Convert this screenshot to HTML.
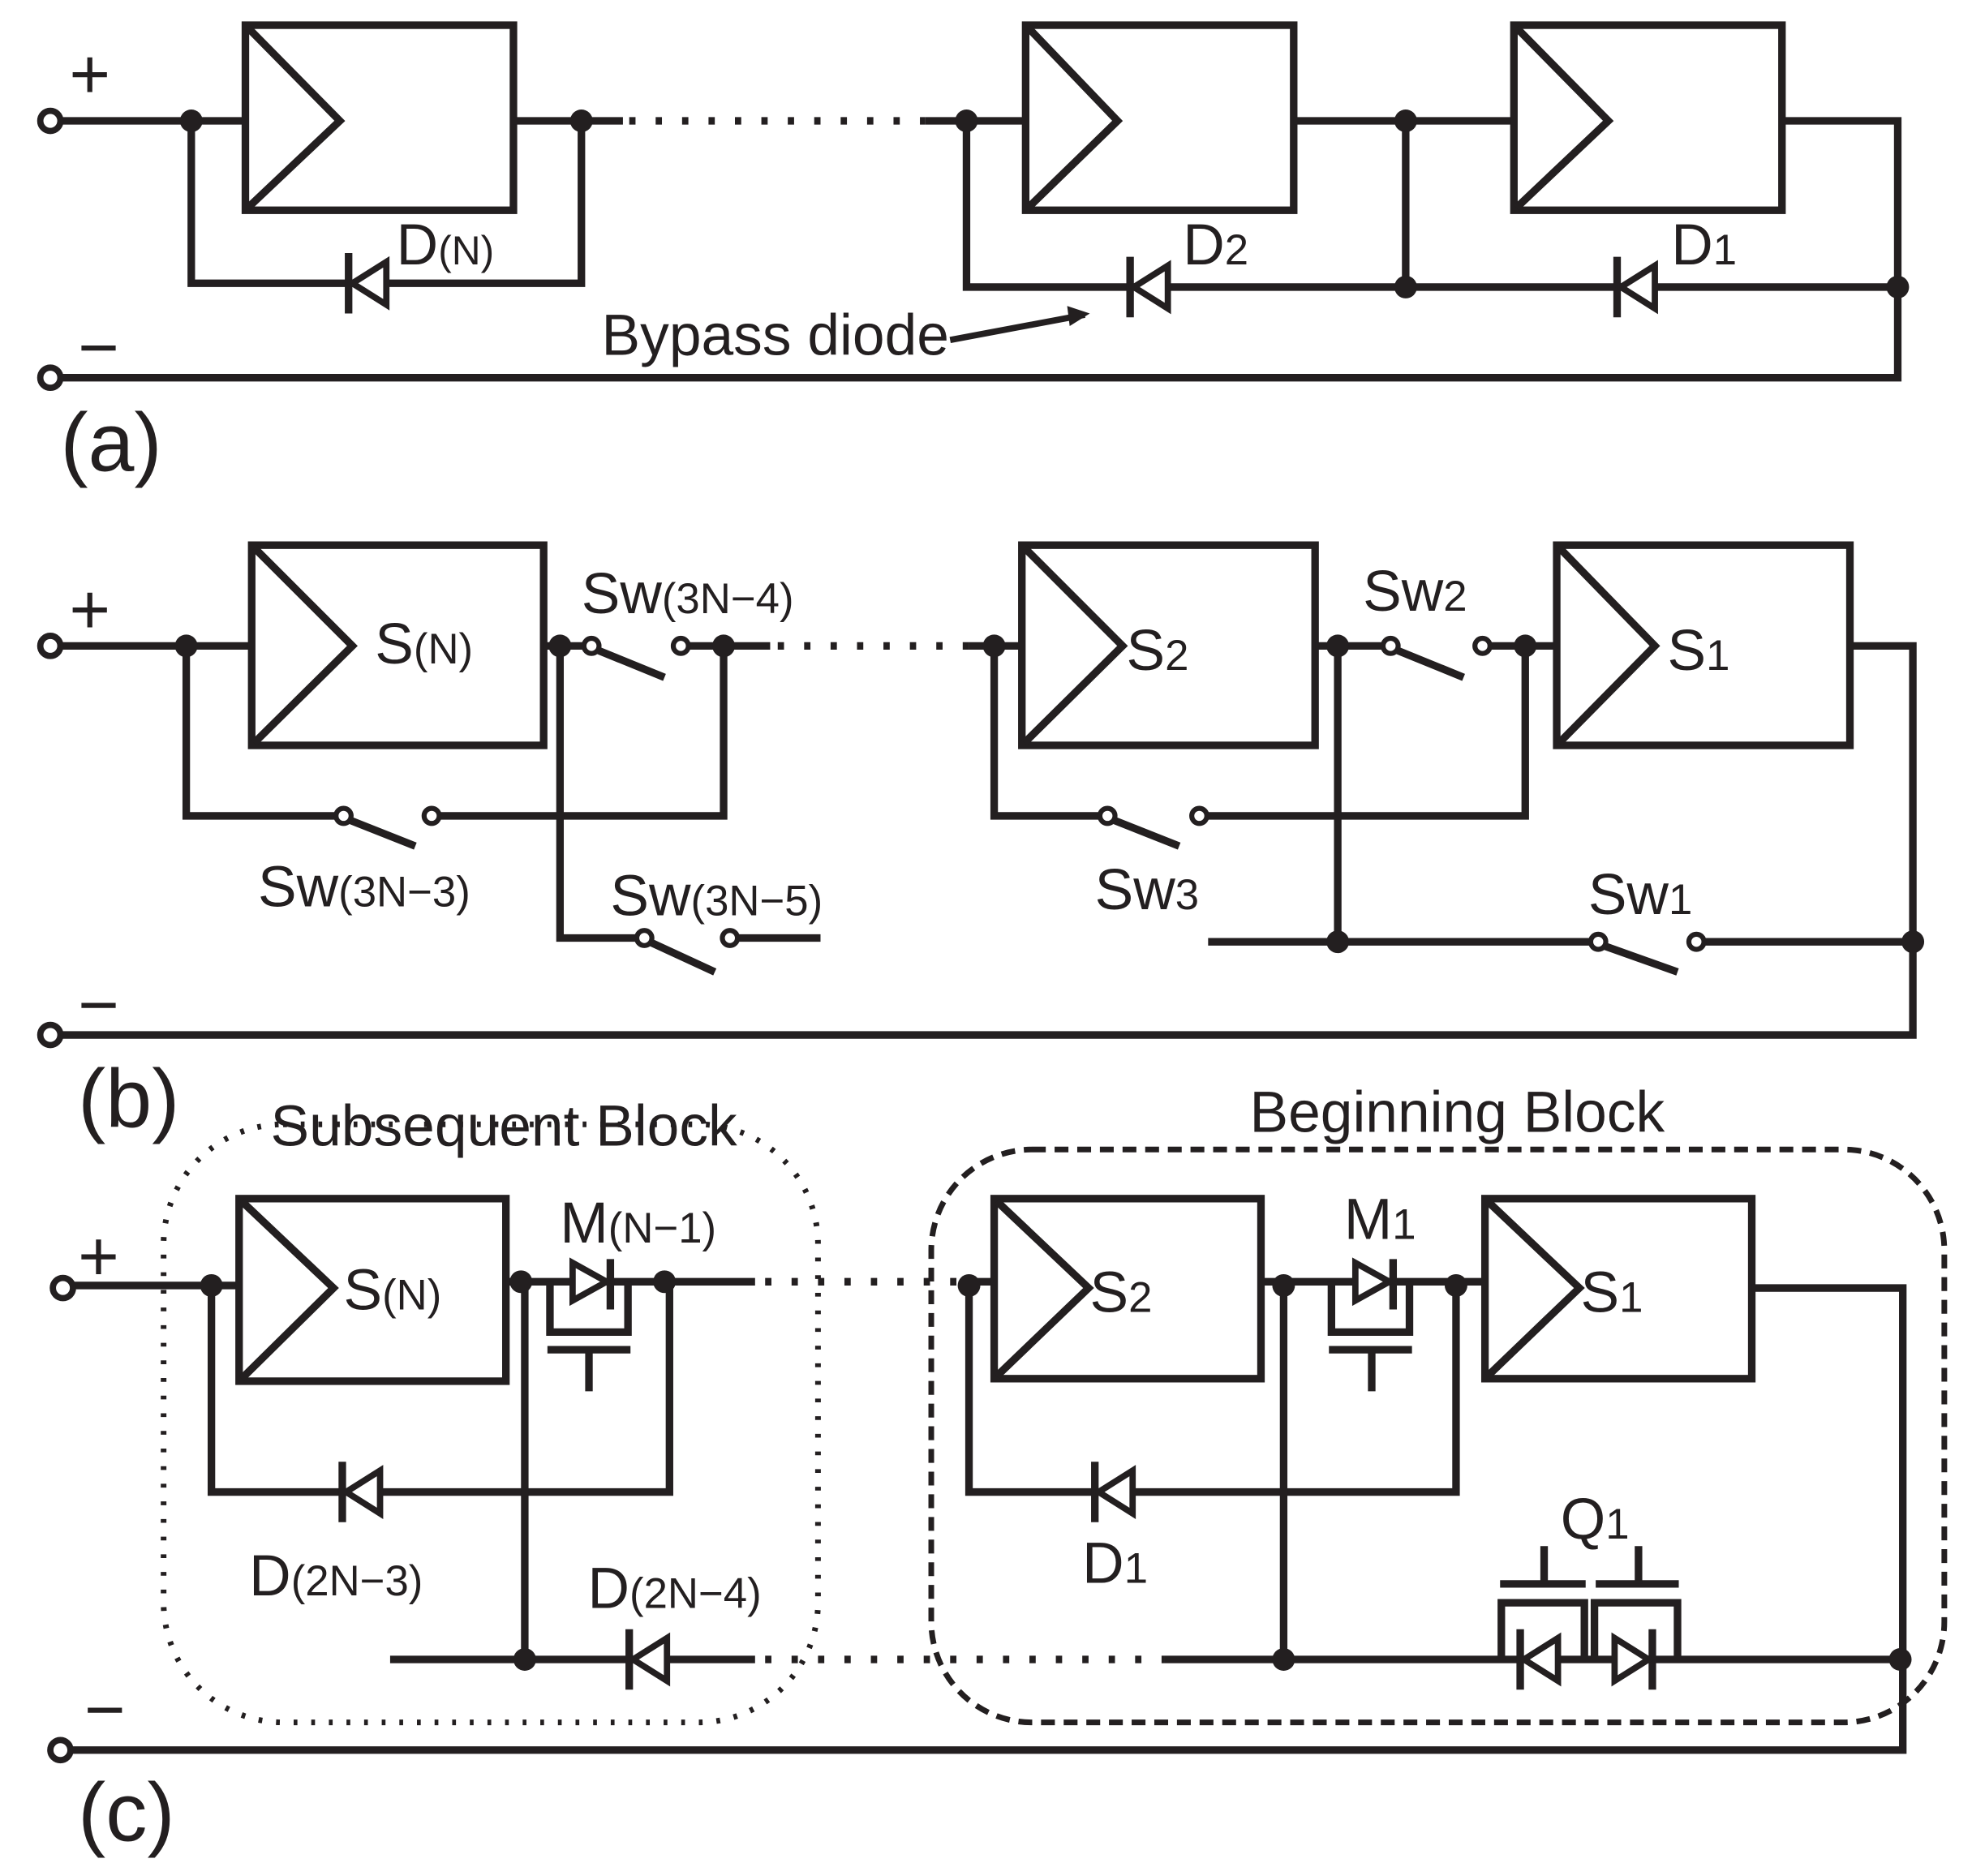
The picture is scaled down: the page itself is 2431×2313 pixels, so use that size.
<!DOCTYPE html>
<html><head><meta charset="utf-8"><style>
html,body{margin:0;padding:0;background:#fff;}
svg{display:block;}
text{font-family:"Liberation Sans",Arial,sans-serif;fill:#231f20;}
</style></head><body>
<svg width="2431" height="2313" viewBox="0 0 1567 1490" preserveAspectRatio="none" xmlns="http://www.w3.org/2000/svg">
<defs>
<g id="dl"><line x1="-15" y1="-24" x2="-15" y2="24" stroke="#231f20" stroke-width="6"/><polygon points="-12,0 15,-17 15,17" fill="#fff" stroke="#231f20" stroke-width="5"/></g>
<g id="dr"><line x1="15" y1="-24" x2="15" y2="24" stroke="#231f20" stroke-width="6"/><polygon points="12,0 -15,-17 -15,17" fill="#fff" stroke="#231f20" stroke-width="5"/></g>
</defs>
<g fill="none" stroke="#231f20" stroke-width="6">
<!-- (a) -->
<line x1="47" y1="96" x2="195" y2="96"/>
<rect x="195" y="20" width="213" height="147"/>
<polyline points="197,22 270,96 197,165"/>
<line x1="408" y1="96" x2="495" y2="96"/>
<line x1="500" y1="96" x2="735" y2="96" stroke-dasharray="5,16"/>
<line x1="735" y1="96" x2="815" y2="96"/>
<polyline points="152,96 152,225 462,225 462,96"/>
<rect x="815" y="20" width="213" height="147"/>
<polyline points="817,22 888,96 817,165"/>
<line x1="1028" y1="96" x2="1203" y2="96"/>
<rect x="1203" y="20" width="213" height="147"/>
<polyline points="1205,22 1278,96 1205,165"/>
<polyline points="1416,96 1508,96 1508,300 47,300"/>
<polyline points="768,96 768,228 1508,228"/>
<line x1="1117" y1="96" x2="1117" y2="228"/>
<line x1="755" y1="270" x2="862" y2="250" stroke-width="5"/>
<!-- (b) -->
<line x1="47" y1="513" x2="200" y2="513"/>
<rect x="200" y="433" width="232" height="159"/>
<polyline points="202,435 280,513 202,590"/>
<line x1="432" y1="513" x2="465" y2="513"/>
<line x1="474" y1="516" x2="528" y2="538"/>
<line x1="547" y1="513" x2="612" y2="513"/>
<line x1="618" y1="513" x2="770" y2="513" stroke-dasharray="5,16"/>
<line x1="770" y1="513" x2="812" y2="513"/>
<polyline points="148,513 148,648 267,648"/>
<line x1="277" y1="651" x2="330" y2="672"/>
<polyline points="349,648 575,648 575,513"/>
<polyline points="445,513 445,745 506,745"/>
<line x1="516" y1="748" x2="568" y2="772"/>
<line x1="586" y1="745" x2="652" y2="745"/>
<rect x="812" y="433" width="233" height="159"/>
<polyline points="814,435 892,513 814,590"/>
<line x1="1045" y1="513" x2="1099" y2="513"/>
<line x1="1109" y1="516" x2="1163" y2="538"/>
<line x1="1184" y1="513" x2="1237" y2="513"/>
<rect x="1237" y="433" width="233" height="159"/>
<polyline points="1239,435 1315,513 1239,590"/>
<polyline points="1470,513 1520,513 1520,822 47,822"/>
<polyline points="790,513 790,648 874,648"/>
<line x1="884" y1="651" x2="937" y2="672"/>
<polyline points="959,648 1212,648 1212,513"/>
<line x1="1063" y1="513" x2="1063" y2="748"/>
<line x1="960" y1="748" x2="1264" y2="748"/>
<line x1="1274" y1="751" x2="1333" y2="772"/>
<line x1="1354" y1="748" x2="1520" y2="748"/>
<!-- (c) -->
<rect x="130" y="893" width="520" height="475" rx="95" stroke-width="4.5" stroke-dasharray="3,11"/>
<rect x="740" y="913" width="805" height="455" rx="80" stroke-width="4.5" stroke-dasharray="11,7"/>
<line x1="57" y1="1021" x2="190" y2="1021"/>
<rect x="190" y="952" width="212" height="145"/>
<polyline points="192,954 265,1023 192,1095"/>
<line x1="402" y1="1018" x2="600" y2="1018"/>
<line x1="608" y1="1018" x2="770" y2="1018" stroke-dasharray="5,16"/>
<polyline points="437,1018 437,1058 499,1058 499,1018"/>
<line x1="435" y1="1072" x2="501" y2="1072"/>
<line x1="468" y1="1072" x2="468" y2="1105"/>
<polyline points="168,1021 168,1185 532,1185 532,1018"/>
<line x1="417" y1="1018" x2="417" y2="1318"/>
<line x1="310" y1="1318" x2="600" y2="1318"/>
<line x1="608" y1="1318" x2="925" y2="1318" stroke-dasharray="5,16"/>
<line x1="770" y1="1018" x2="790" y2="1018"/>
<rect x="790" y="952" width="212" height="143"/>
<polyline points="792,954 865,1023 792,1093"/>
<line x1="1002" y1="1018" x2="1180" y2="1018"/>
<polyline points="1058,1018 1058,1058 1120,1058 1120,1018"/>
<line x1="1056" y1="1072" x2="1122" y2="1072"/>
<line x1="1090" y1="1072" x2="1090" y2="1105"/>
<rect x="1180" y="952" width="212" height="143"/>
<polyline points="1182,954 1255,1023 1182,1093"/>
<polyline points="1392,1023 1512,1023 1512,1390 57,1390"/>
<polyline points="770,1018 770,1185 1157,1185 1157,1018"/>
<line x1="1020" y1="1018" x2="1020" y2="1318"/>
<line x1="925" y1="1318" x2="1512" y2="1318"/>
<polyline points="1193,1318 1193,1273 1259,1273 1259,1318"/>
<polyline points="1267,1318 1267,1273 1333,1273 1333,1318"/>
<line x1="1192" y1="1258" x2="1260" y2="1258"/>
<line x1="1227" y1="1258" x2="1227" y2="1228"/>
<line x1="1268" y1="1258" x2="1334" y2="1258"/>
<line x1="1302" y1="1258" x2="1302" y2="1228"/>
</g>
<!-- terminals & switch contacts -->
<g fill="#fff" stroke="#231f20" stroke-width="5">
<circle cx="40" cy="96" r="8"/><circle cx="40" cy="300" r="8"/>
<circle cx="40" cy="513" r="8"/><circle cx="40" cy="822" r="8"/>
<circle cx="50" cy="1023" r="8"/><circle cx="48" cy="1390" r="8"/>
<g stroke-width="4">
<circle cx="470" cy="513" r="6"/><circle cx="541" cy="513" r="6"/>
<circle cx="273" cy="648" r="6"/><circle cx="343" cy="648" r="6"/>
<circle cx="512" cy="745" r="6"/><circle cx="580" cy="745" r="6"/>
<circle cx="1105" cy="513" r="6"/><circle cx="1178" cy="513" r="6"/>
<circle cx="880" cy="648" r="6"/><circle cx="953" cy="648" r="6"/>
<circle cx="1270" cy="748" r="6"/><circle cx="1348" cy="748" r="6"/>
</g>
</g>
<!-- diodes -->
<use href="#dl" x="292" y="225"/>
<use href="#dl" x="913" y="228"/>
<use href="#dl" x="1300" y="228"/>
<use href="#dl" x="287" y="1185"/>
<use href="#dl" x="515" y="1318"/>
<use href="#dl" x="885" y="1185"/>
<use href="#dl" x="1223" y="1318"/>
<use href="#dr" x="1298" y="1318"/>
<g stroke="#231f20">
<line x1="485" y1="1000" x2="485" y2="1040" stroke-width="6"/>
<polygon points="482,1018 455,1003 455,1033" fill="#fff" stroke-width="5"/>
<line x1="1107" y1="1000" x2="1107" y2="1040" stroke-width="6"/>
<polygon points="1104,1018 1077,1003 1077,1033" fill="#fff" stroke-width="5"/>
</g>
<polygon points="866,249 848,243 850,259" fill="#231f20"/>
<!-- dots -->
<g fill="#231f20">
<circle cx="152" cy="96" r="9"/><circle cx="462" cy="96" r="9"/><circle cx="768" cy="96" r="9"/>
<circle cx="1117" cy="96" r="9"/><circle cx="1117" cy="228" r="9"/><circle cx="1508" cy="228" r="9"/>
<circle cx="148" cy="513" r="9"/><circle cx="445" cy="513" r="9"/><circle cx="575" cy="513" r="9"/>
<circle cx="790" cy="513" r="9"/><circle cx="1063" cy="513" r="9"/><circle cx="1212" cy="513" r="9"/>
<circle cx="1063" cy="748" r="9"/><circle cx="1520" cy="748" r="9"/>
<circle cx="168" cy="1021" r="9"/><circle cx="414" cy="1018" r="9"/><circle cx="528" cy="1018" r="9"/>
<circle cx="770" cy="1021" r="9"/><circle cx="1020" cy="1021" r="9"/><circle cx="1157" cy="1021" r="9"/>
<circle cx="417" cy="1318" r="9"/><circle cx="1020" cy="1318" r="9"/><circle cx="1510" cy="1318" r="9"/>
</g>
<!-- text -->
<g font-size="46">
<text x="55" y="78" font-size="56">+</text><text x="62" y="295" font-size="56">−</text>
<text x="315" y="210">D<tspan font-size="32">(N)</tspan></text>
<text x="940" y="210">D<tspan font-size="34">2</tspan></text>
<text x="1328" y="210">D<tspan font-size="34">1</tspan></text>
<text x="478" y="282">Bypass diode</text>
<text x="48" y="374" font-size="66">(a)</text>
<text x="55" y="503" font-size="56">+</text><text x="62" y="817" font-size="56">−</text>
<text x="298" y="527">S<tspan font-size="34">(N)</tspan></text>
<text x="462" y="487">Sw<tspan font-size="34">(3N−4)</tspan></text>
<text x="205" y="720">Sw<tspan font-size="34">(3N−3)</tspan></text>
<text x="485" y="727">Sw<tspan font-size="34">(3N−5)</tspan></text>
<text x="895" y="532">S<tspan font-size="34">2</tspan></text>
<text x="1325" y="532">S<tspan font-size="34">1</tspan></text>
<text x="1083" y="485">Sw<tspan font-size="34">2</tspan></text>
<text x="870" y="722">Sw<tspan font-size="34">3</tspan></text>
<text x="1262" y="726">Sw<tspan font-size="34">1</tspan></text>
<text x="62" y="895" font-size="66">(b)</text>
<text x="215" y="910">Subsequent Block</text>
<text x="993" y="899">Beginning Block</text>
<text x="62" y="1017" font-size="56">+</text><text x="67" y="1377" font-size="56">−</text>
<text x="273" y="1040">S<tspan font-size="34">(N)</tspan></text>
<text x="445" y="987">M<tspan font-size="34">(N−1)</tspan></text>
<text x="866" y="1042">S<tspan font-size="34">2</tspan></text>
<text x="1068" y="984">M<tspan font-size="34">1</tspan></text>
<text x="1256" y="1042">S<tspan font-size="34">1</tspan></text>
<text x="198" y="1267">D<tspan font-size="34">(2N−3)</tspan></text>
<text x="467" y="1277">D<tspan font-size="34">(2N−4)</tspan></text>
<text x="860" y="1257">D<tspan font-size="34">1</tspan></text>
<text x="1240" y="1222">Q<tspan font-size="34">1</tspan></text>
<text x="62" y="1462" font-size="66">(c)</text>
</g>
</svg>
</body></html>
